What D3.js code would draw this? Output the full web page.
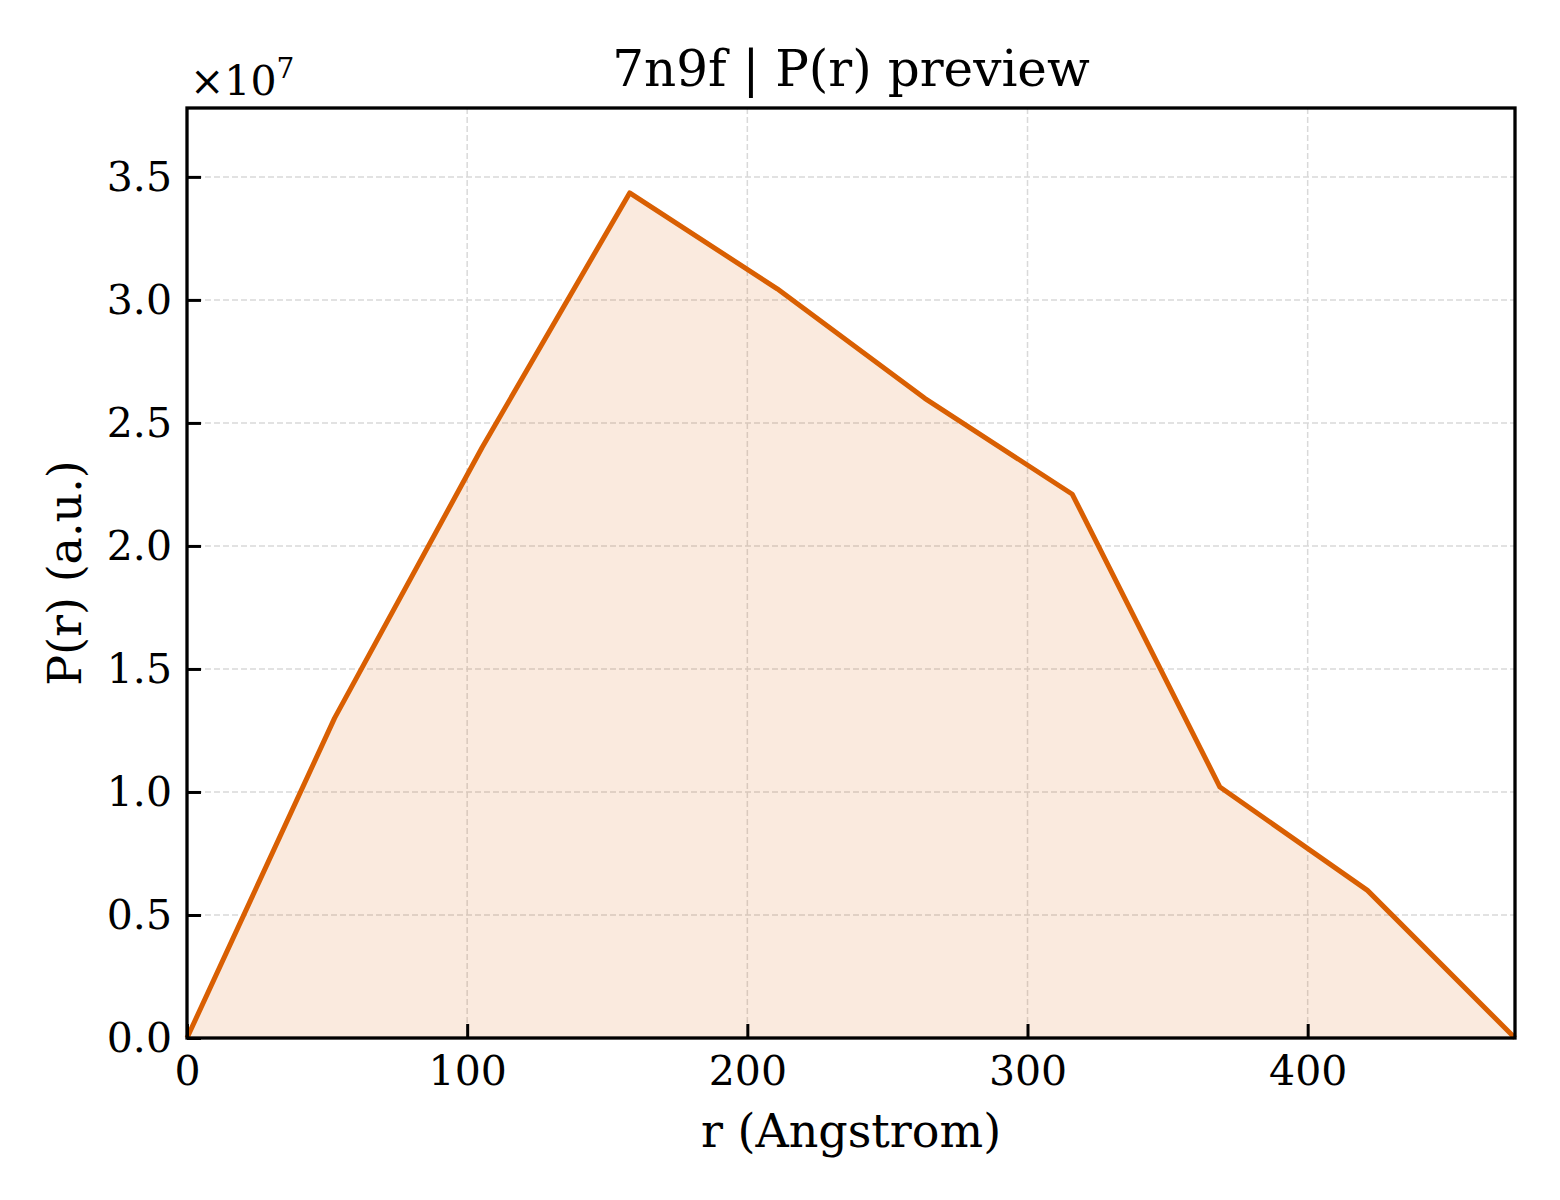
<!DOCTYPE html>
<html><head><meta charset="utf-8">
<script src="https://cdn.jsdelivr.net/npm/d3@7/dist/d3.min.js"></script>
<style>body{margin:0;background:#fff}svg{display:block}text{font-family:"DejaVu Serif",serif;fill:#000}</style>
</head><body>
<svg id="c" width="1560" height="1200"></svg>
<script>
const rValues = [0, 52.67, 105.33, 158, 210.67, 263.33, 316, 368.67, 421.33, 474];
const pValues = [0, 1.30e7, 2.40e7, 3.435e7, 3.045e7, 2.60e7, 2.21e7, 1.02e7, 0.60e7, 0];
const xTicks = [0, 100, 200, 300, 400];
const yTicks = [0, 0.5e7, 1.0e7, 1.5e7, 2.0e7, 2.5e7, 3.0e7, 3.5e7];
const titleText = "7n9f | P(r) preview";
const xLabel = "r (Angstrom)";
const yLabel = "P(r) (a.u.)";

const L = 187, R = 1515, T = 108, B = 1038;
const svg = d3.select("#c");
const x = d3.scaleLinear().domain([0, 474]).range([L, R]);
const y = d3.scaleLinear().domain([0, 3.78e7]).range([B, T]);
const data = rValues.map((r, i) => ({r, p: pValues[i]}));

// grid
const g = svg.append("g");
g.selectAll(".gx").data(xTicks.slice(1)).join("line")
  .attr("x1", d => x(d)).attr("x2", d => x(d)).attr("y1", T).attr("y2", B)
  .attr("stroke", "#d9d9d9").attr("stroke-width", 1.5).attr("stroke-dasharray", "6,3");
g.selectAll(".gy").data(yTicks.slice(1)).join("line")
  .attr("y1", d => y(d)).attr("y2", d => y(d)).attr("x1", L).attr("x2", R)
  .attr("stroke", "#d9d9d9").attr("stroke-width", 1.5).attr("stroke-dasharray", "6,3");

// area + line
svg.append("path").datum(data)
  .attr("d", d3.area().x(d => x(d.r)).y0(y(0)).y1(d => y(d.p)))
  .attr("fill", "#d95f02").attr("fill-opacity", 0.13);
svg.append("path").datum(data)
  .attr("d", d3.line().x(d => x(d.r)).y(d => y(d.p)))
  .attr("fill", "none").attr("stroke", "#d95f02").attr("stroke-width", 5).attr("stroke-linejoin", "round");

// axes
const xa = svg.append("g").attr("transform", `translate(0,${B})`)
  .call(d3.axisBottom(x).tickValues(xTicks).tickSizeInner(-14).tickSizeOuter(0).tickPadding(18).tickFormat(d3.format("d")));
const ya = svg.append("g").attr("transform", `translate(${L},0)`)
  .call(d3.axisLeft(y).tickValues(yTicks).tickSizeInner(-14).tickSizeOuter(0).tickPadding(15).tickFormat(d => (d / 1e7).toFixed(1)));
[xa, ya].forEach(a => {
  a.select(".domain").remove();
  a.selectAll(".tick line").attr("stroke", "#000").attr("stroke-width", 3);
  a.selectAll(".tick text").attr("font-size", 41).attr("font-family", "DejaVu Serif");
});
xa.selectAll(".tick text").attr("dy", "0.71em");

// frame
svg.append("rect").attr("x", L).attr("y", T).attr("width", R - L).attr("height", B - T)
  .attr("fill", "none").attr("stroke", "#000").attr("stroke-width", 3.3);

// texts
svg.append("text").attr("x", (L + R) / 2).attr("y", 86).attr("text-anchor", "middle")
  .attr("font-size", 50).text(titleText);
svg.append("text").attr("x", (L + R) / 2).attr("y", 1147).attr("text-anchor", "middle")
  .attr("font-size", 46).text(xLabel);
svg.append("text").attr("transform", `translate(81,${(T + B) / 2}) rotate(-90)`).attr("text-anchor", "middle")
  .attr("font-size", 46).text(yLabel);
const off = svg.append("text").attr("x", 190).attr("y", 95).attr("font-size", 41);
off.append("tspan").text("×10");
off.append("tspan").attr("font-size", 28).attr("dy", -17).text("7");
</script>
</body></html>
